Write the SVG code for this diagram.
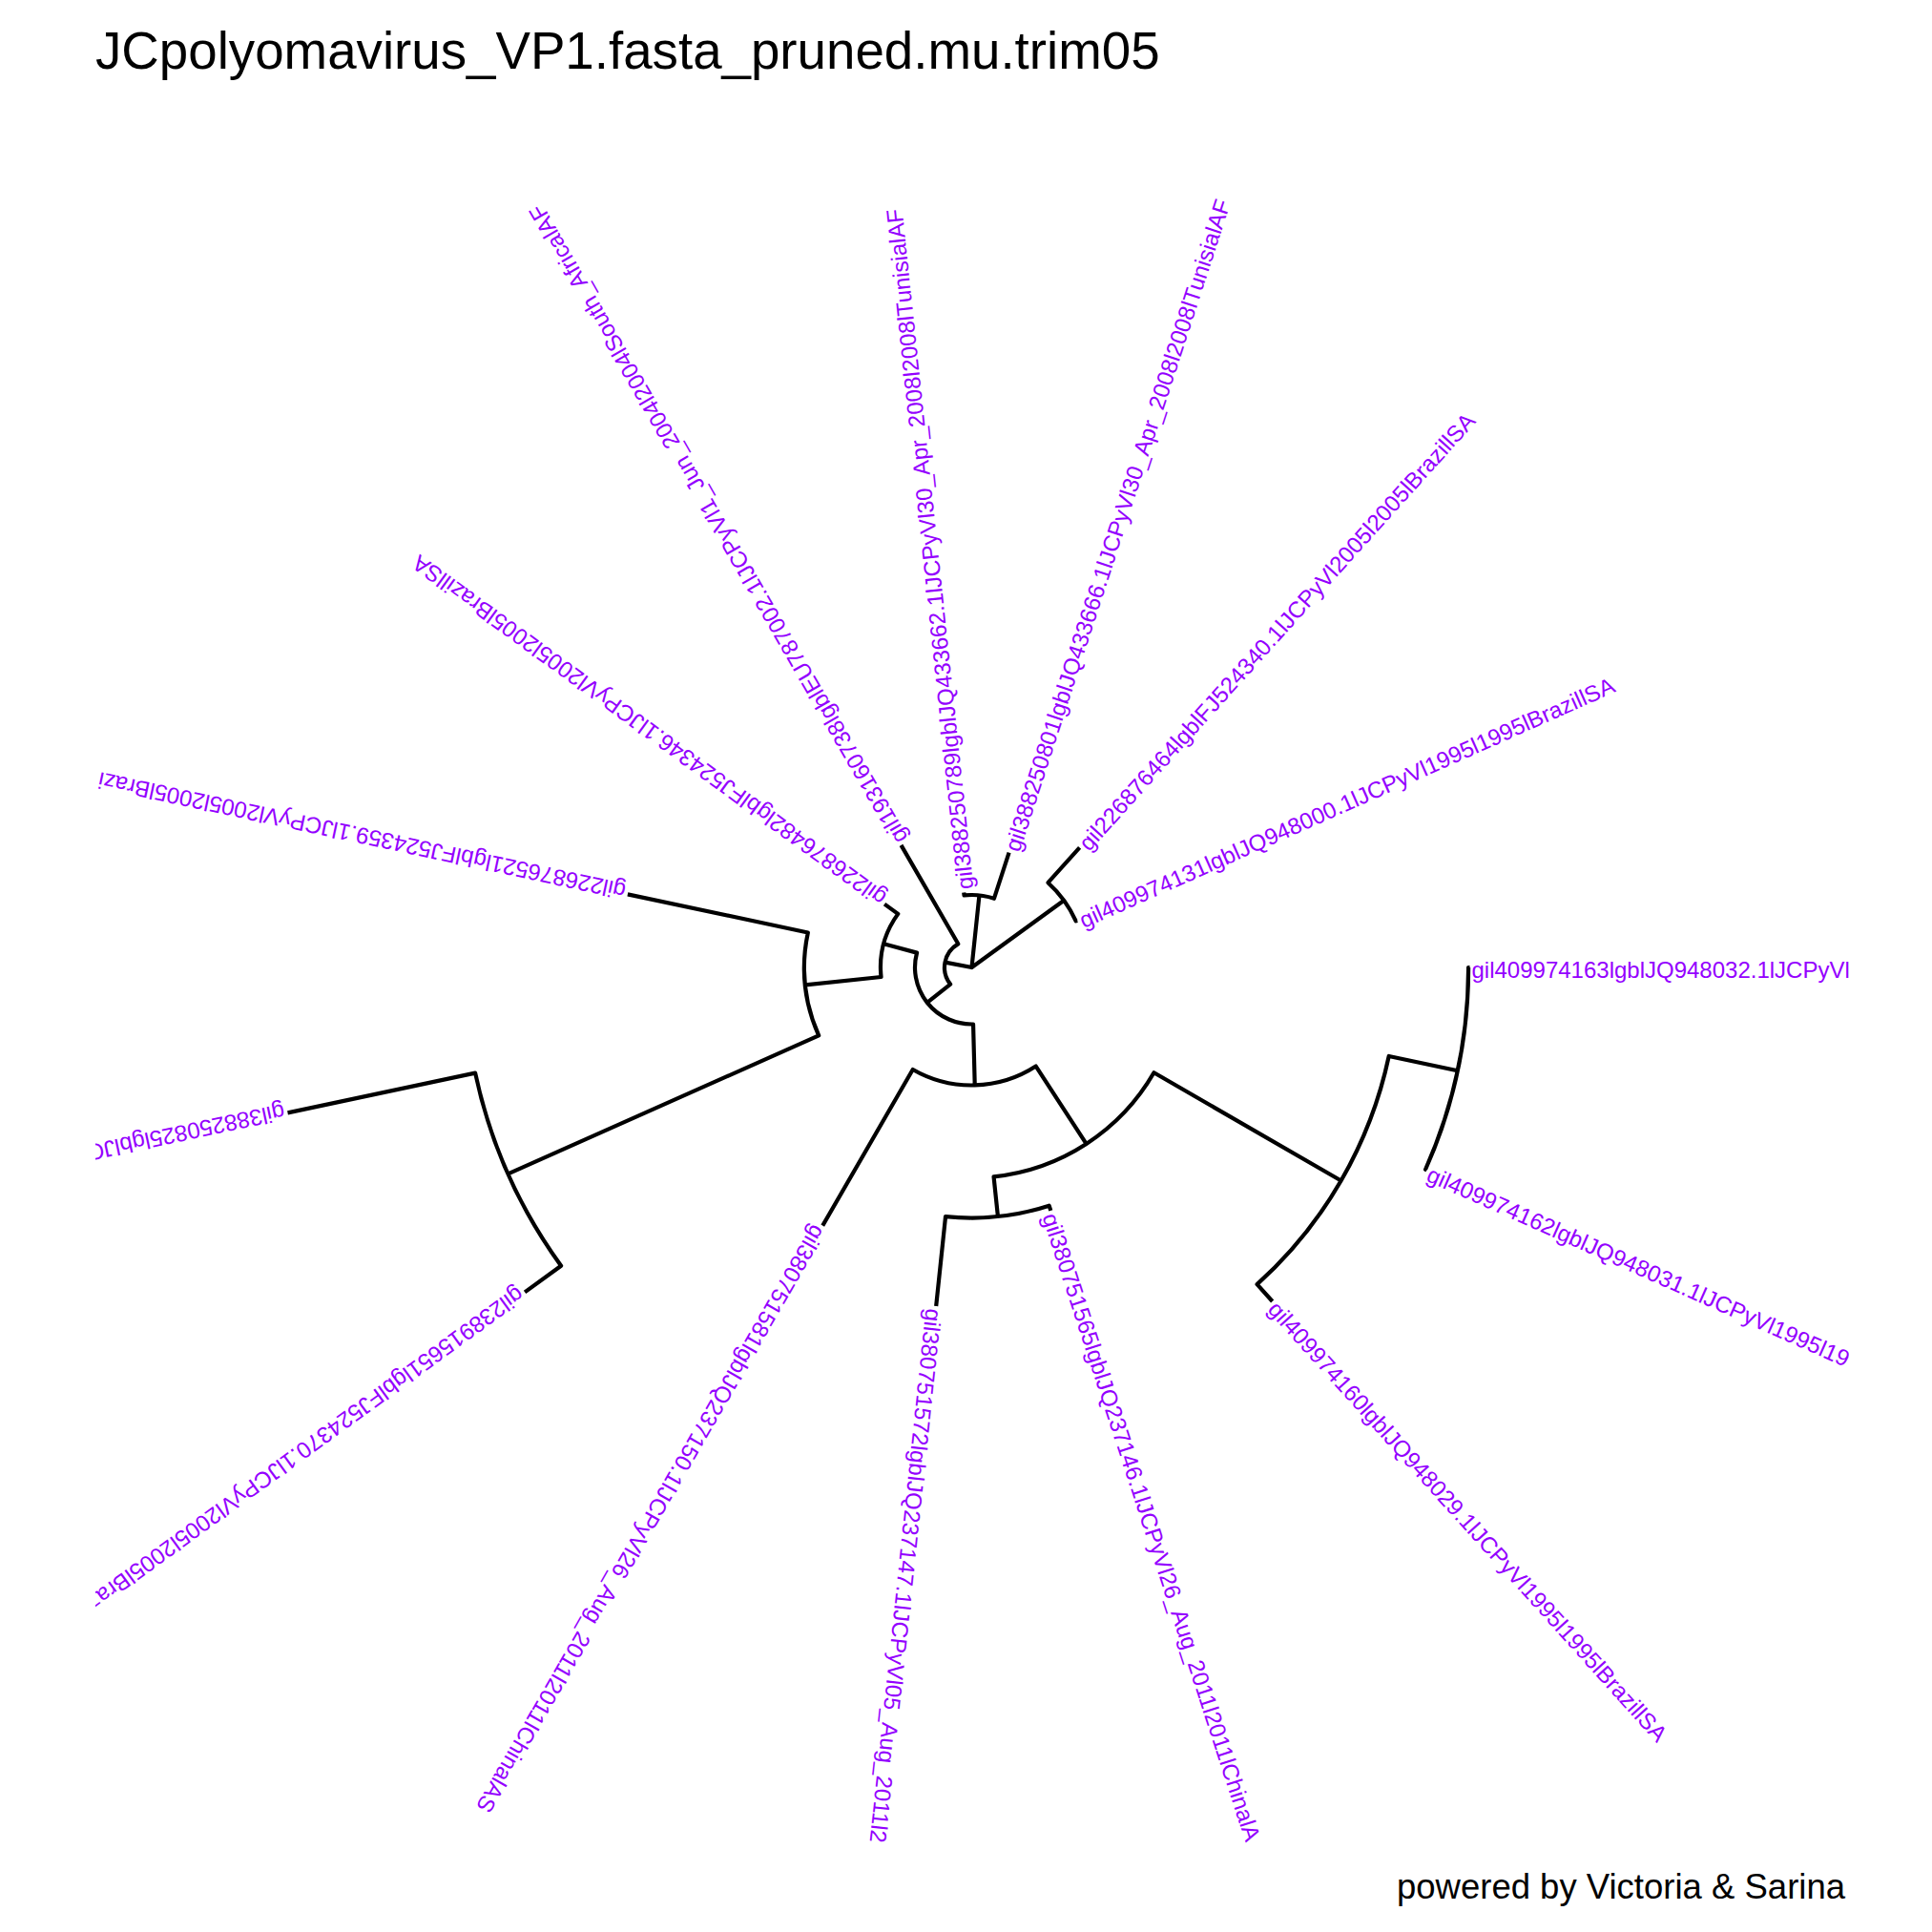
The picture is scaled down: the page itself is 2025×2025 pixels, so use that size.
<svg xmlns="http://www.w3.org/2000/svg" width="2025" height="2025" viewBox="0 0 2025 2025">
<defs>
<clipPath id="panel" clipPathUnits="userSpaceOnUse"><rect x="100" y="95" width="1838" height="1840"/></clipPath>
<style>
.br{fill:none;stroke:#000;stroke-width:4.2;stroke-linejoin:round;stroke-linecap:butt}
.lab{font-family:"Liberation Sans",Arial,Helvetica,sans-serif;font-size:24px;fill:#9400FF}
.title{font-family:"Liberation Sans",Arial,Helvetica,sans-serif;font-size:54.7px;fill:#000}
.cap{font-family:"Liberation Sans",Arial,Helvetica,sans-serif;font-size:36.5px;fill:#000}
</style>
</defs>
<rect width="2025" height="2025" fill="#fff"/>
<g id="title"><text class="title" x="100" y="72">JCpolyomavirus_VP1.fasta_pruned.mu.trim05</text></g>
<g clip-path="url(#panel)">
<g transform="translate(1018.5,1014)">
<g id="connectors" class="br">
<path d="M-27.99,-5.38 L0,0 L7.94,-75.58 M0,0 L96.68,-70.24"/>
<path d="M-46.73,36.84 L-22.38,17.64 A28.5 28.5 0 0 1 -14.25,-24.68 L-74,-128.17"/>
<path d="M3.23,123.46 L1.56,59.48 A59.5 59.5 0 0 1 -57.47,-15.40 L-92.25,-24.72"/>
<path d="M-174.54,18.35 L-94.98,9.98 A95.5 95.5 0 0 1 -77.26,-56.13 L-91.42,-66.42"/>
<path d="M-486.01,216.39 L-160.33,71.38 A175.5 175.5 0 0 1 -171.66,-36.49 L-360.64,-76.66"/>
<path d="M-468.42,340.33 L-430.40,312.70 A532 532 0 0 1 -520.38,110.61 L-716.98,152.40"/>
<path d="M120.09,184.93 L67.26,103.58 A123.5 123.5 0 0 1 -61.75,106.95 L-156.25,270.63"/>
<path d="M387.12,223.5 L190.96,110.25 A220.5 220.5 0 0 1 23.05,219.29 L27.44,261.06"/>
<path d="M82.82,254.88 L81.12,249.65 A262.5 262.5 0 0 1 -27.44,261.06 L-37.32,355.04"/>
<path d="M509.22,108.24 L437.23,92.94 A447 447 0 0 1 299.10,332.18 L315.16,350.02"/>
<path d="M522,0 L520.6,0 A520.6 520.6 0 0 1 475.59,211.75 L476.87,212.32"/>
<path d="M-8.26,-78.57 L-7.94,-75.58 A76 76 0 0 1 23.49,-72.28 L39.09,-120.31"/>
<path d="M113.08,-125.59 L79.96,-88.80 A119.5 119.5 0 0 1 109.17,-48.61 L110.54,-49.22"/>
</g>
<g id="leaf1"><text class="lab" transform="rotate(0)" x="524" y="10.5">gil409974163lgblJQ948032.1lJCPyVl</text></g>
<g id="leaf2"><text class="lab" transform="rotate(24)" x="525" y="10.5">gil409974162lgblJQ948031.1lJCPyVl1995l19</text></g>
<g id="leaf3"><text class="lab" transform="rotate(48)" x="474" y="10.5">gil409974160lgblJQ948029.1lJCPyVl1995l1995lBrazillSA</text></g>
<g id="leaf4"><text class="lab" transform="rotate(72)" x="271" y="10.5">gil380751565lgblJQ237146.1lJCPyVl26_Aug_2011l2011lChinalA</text></g>
<g id="leaf5"><text class="lab" transform="rotate(96)" x="360" y="10.5">gil380751572lgblJQ237147.1lJCPyVl05_Aug_2011l2</text></g>
<g id="leaf6"><text class="lab" transform="rotate(120)" x="315.5" y="10.5">gil380751581lgblJQ237150.1lJCPyVl26_Aug_2011l2011lChinalAS</text></g>
<g id="leaf7"><text class="lab" transform="rotate(144)" x="582" y="10.5">gil238915651lgblFJ524370.1lJCPyVl2005l2005lBraz</text></g>
<g id="leaf8"><text class="lab" transform="rotate(168)" x="736" y="10.5">gil388250825lgblJQ</text></g>
<g id="leaf9"><text class="lab" transform="rotate(192)" x="371.7" y="10.5">gil226876521lgblFJ524359.1lJCPyVl2005l2005lBrazi</text></g>
<g id="leaf10"><text class="lab" transform="rotate(216)" x="116" y="10.5">gil226876482lgblFJ524346.1lJCPyVl2005l2005lBrazillSA</text></g>
<g id="leaf11"><text class="lab" transform="rotate(240)" x="151" y="10.5">gil193160738lgblEU787002.1lJCPyVl1_Jun_2004l2004lSouth_AfricalAF</text></g>
<g id="leaf12"><text class="lab" transform="rotate(264)" x="82" y="10.5">gil388250789lgblJQ433662.1lJCPyVl30_Apr_2008l2008lTunisialAF</text></g>
<g id="leaf13"><text class="lab" transform="rotate(288)" x="129.5" y="10.5">gil388250801lgblJQ433666.1lJCPyVl30_Apr_2008l2008lTunisialAF</text></g>
<g id="leaf14"><text class="lab" transform="rotate(312)" x="172" y="10.5">gil226876464lgblFJ524340.1lJCPyVl2005l2005lBrazillSA</text></g>
<g id="leaf15"><text class="lab" transform="rotate(336)" x="124" y="10.5">gil409974131lgblJQ948000.1lJCPyVl1995l1995lBrazillSA</text></g>
</g>
</g>
<g id="caption"><text class="cap" x="1934" y="1990" text-anchor="end">powered by Victoria &amp; Sarina</text></g>
</svg>
